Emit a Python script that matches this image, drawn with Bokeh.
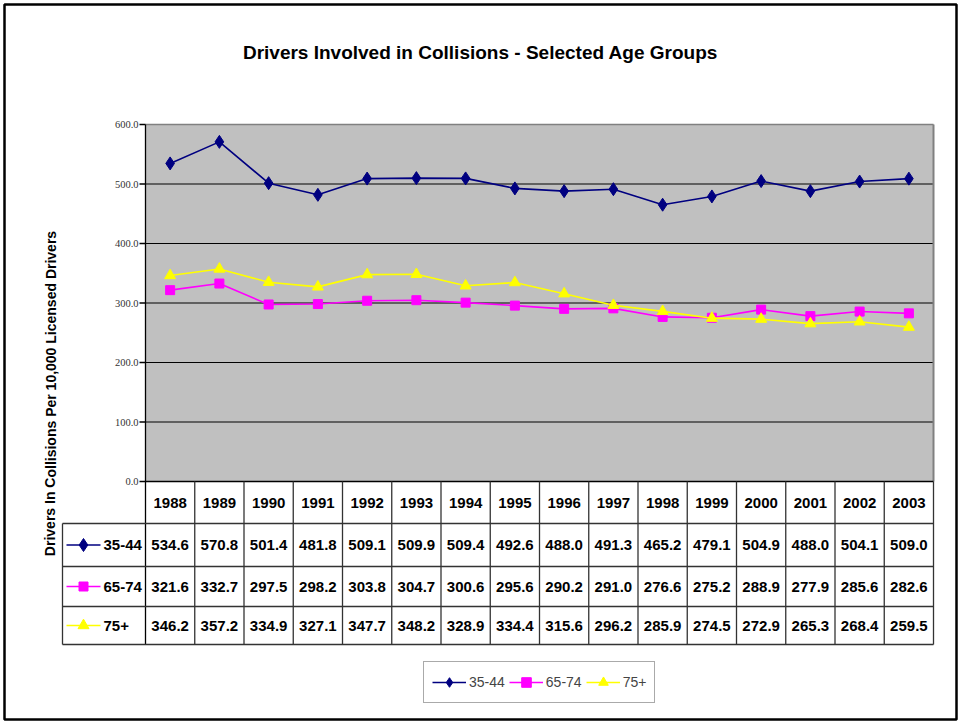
from bokeh.plotting import figure
from bokeh.models import Range1d, Legend, LegendItem, ColumnDataSource
from bokeh.core.properties import value
from bokeh.embed import file_html
from bokeh.resources import INLINE

# ---------------- data ----------------
title_text = "Drivers Involved in Collisions - Selected Age Groups"
y_title_text = "Drivers In Collisions Per 10,000 Licensed Drivers"
years = ["1988", "1989", "1990", "1991", "1992", "1993", "1994", "1995",
         "1996", "1997", "1998", "1999", "2000", "2001", "2002", "2003"]
series_names = ["35-44", "65-74", "75+"]
age_35_44 = [534.6, 570.8, 501.4, 481.8, 509.1, 509.9, 509.4, 492.6,
             488.0, 491.3, 465.2, 479.1, 504.9, 488.0, 504.1, 509.0]
age_65_74 = [321.6, 332.7, 297.5, 298.2, 303.8, 304.7, 300.6, 295.6,
             290.2, 291.0, 276.6, 275.2, 288.9, 277.9, 285.6, 282.6]
age_75_plus = [346.2, 357.2, 334.9, 327.1, 347.7, 348.2, 328.9, 334.4,
               315.6, 296.2, 285.9, 274.5, 272.9, 265.3, 268.4, 259.5]
y_ticks = [0, 100, 200, 300, 400, 500, 600]
y_tick_labels = ["0.0", "100.0", "200.0", "300.0", "400.0", "500.0", "600.0"]

# ---------------- styles ----------------
colors = ["#000080", "#FF00FF", "#FFFF00"]
markers = ["diamond", "square", "triangle"]
marker_sizes = [13, 9, 11]
SANS = "Liberation Sans"
SERIF = "Liberation Serif"

# ---------------- layout (page pixels) ----------------
W, H = 960, 721
OX, OY = 0, 0                        # page offset of the canvas
PL, PR, PT, PB = 145, 933, 124, 481  # plot area (top = max tick, bottom = 0)
ROW_EDGES = [481, 523, 566, 606, 644]
KEY_LEFT = 62
BORDER = (4, 956, 4, 719)

n = len(years)
XU = (PR - PL) / n
YU = (PB - PT) / y_ticks[-1]


def dx(px):
    return (px - PL) / XU


def dy(py):
    return (PB - py) / YU


p = figure(width=W, height=H, output_backend="svg", toolbar_location=None,
           x_range=Range1d(dx(OX), dx(OX + W)), y_range=Range1d(dy(OY + H), dy(OY)),
           x_axis_type=None, y_axis_type=None, min_border=0,
           background_fill_color="white", border_fill_color="white",
           outline_line_color=None)
p.grid.visible = False

# outer chart border
p.quad(left=dx(BORDER[0]), right=dx(BORDER[1]), top=dy(BORDER[2]), bottom=dy(BORDER[3]),
       fill_color=None, line_color="black", line_width=2.5)

# plot area
p.quad(left=0, right=n, bottom=y_ticks[0], top=y_ticks[-1],
       fill_color="#C0C0C0", line_color=None)
p.segment(x0=[0] * (len(y_ticks) - 2), x1=[n] * (len(y_ticks) - 2),
          y0=y_ticks[1:-1], y1=y_ticks[1:-1], line_color="black", line_width=1)
p.segment(x0=[0], x1=[n], y0=[y_ticks[-1]], y1=[y_ticks[-1]],
          line_color="#808080", line_width=1.5)
p.segment(x0=[n], x1=[n], y0=[y_ticks[-1]], y1=[y_ticks[0]],
          line_color="#808080", line_width=2)

# y axis (drawn)
p.segment(x0=[0], x1=[0], y0=[y_ticks[-1]], y1=[dy(ROW_EDGES[-1])],
          line_color="black", line_width=1.3)
p.segment(x0=[dx(PL - 6)] * len(y_ticks), x1=[0] * len(y_ticks),
          y0=y_ticks, y1=y_ticks, line_color="black", line_width=1.3)
p.text(x=[dx(PL - 7)] * len(y_ticks), y=y_ticks, text=y_tick_labels,
       text_align="right", text_baseline="middle", text_font=value(SERIF),
       text_font_size="10.5px", text_color="#333333")

# data series
xs = [i + 0.5 for i in range(n)]
series_values = [age_35_44, age_65_74, age_75_plus]
renderers = []
for vals, col, mk, ms in zip(series_values, colors, markers, marker_sizes):
    ln = p.line(x=xs, y=vals, line_color=col, line_width=1.6)
    sc = p.scatter(x=xs, y=vals, marker=mk, size=ms, fill_color=col, line_color=col)
    renderers.append([ln, sc])

# data table grid
tbl_color = "#333333"
p.segment(x0=[0], x1=[n], y0=[0], y1=[0], line_color="black", line_width=1.3)
for e in ROW_EDGES[1:]:
    p.segment(x0=[dx(KEY_LEFT)], x1=[n], y0=[dy(e)], y1=[dy(e)],
              line_color=tbl_color, line_width=1.3)
p.segment(x0=list(range(1, n + 1)), x1=list(range(1, n + 1)),
          y0=[0] * n, y1=[dy(ROW_EDGES[-1])] * n, line_color=tbl_color, line_width=1.3)
p.segment(x0=[dx(KEY_LEFT)], x1=[dx(KEY_LEFT)], y0=[dy(ROW_EDGES[1])],
          y1=[dy(ROW_EDGES[-1])], line_color=tbl_color, line_width=1.3)

# header row (years)
hdr_y = dy((ROW_EDGES[0] + ROW_EDGES[1]) / 2)
p.text(x=xs, y=[hdr_y] * n, text=years, text_align="center", text_baseline="middle",
       text_font=value(SANS), text_font_size="15px", text_font_style="bold",
       text_color="black")

# value rows
for r, (name, vals, col, mk, ms) in enumerate(zip(series_names, series_values,
                                                   colors, markers, marker_sizes)):
    cy = dy((ROW_EDGES[r + 1] + ROW_EDGES[r + 2]) / 2)
    src = ColumnDataSource(dict(x=xs, y=[cy] * n, t=["%.1f" % v for v in vals]))
    p.text(x="x", y="y", text="t", source=src, text_align="center",
           text_baseline="middle", text_font=value(SANS), text_font_size="15px",
           text_font_style="bold", text_color="black")
    # key
    p.segment(x0=[dx(66)], x1=[dx(100)], y0=[cy], y1=[cy], line_color=col, line_width=1.6)
    p.scatter(x=[dx(83)], y=[cy], marker=mk, size=ms, fill_color=col, line_color=col)
    p.text(x=[dx(103)], y=[cy], text=[name], text_align="left", text_baseline="middle",
           text_font=value(SANS), text_font_size="15px", text_font_style="bold",
           text_color="black")

# titles
p.text(x=[dx(480)], y=[dy(52)], text=[title_text], text_align="center",
       text_baseline="middle", text_font=value(SANS), text_font_size="19px",
       text_font_style="bold", text_color="black")
p.text(x=[dx(50)], y=[dy(393)], text=[y_title_text], angle=1.5707963,
       text_align="center", text_baseline="middle", text_font=value(SANS),
       text_font_size="14px", text_font_style="bold", text_color="black")

# legend
legend = Legend(items=[LegendItem(label=nm, renderers=rs)
                       for nm, rs in zip(series_names, renderers)],
                location=(423 - OX, OY + H - 703), orientation="horizontal",
                margin=0, padding=8, spacing=4, label_standoff=3,
                glyph_width=34, glyph_height=24,
                label_text_font=SANS, label_text_font_size="14px",
                border_line_color="#555555", border_line_width=1.5,
                background_fill_color="white", background_fill_alpha=1)
p.add_layout(legend)

open("out.html", "w").write(file_html(p, INLINE))
